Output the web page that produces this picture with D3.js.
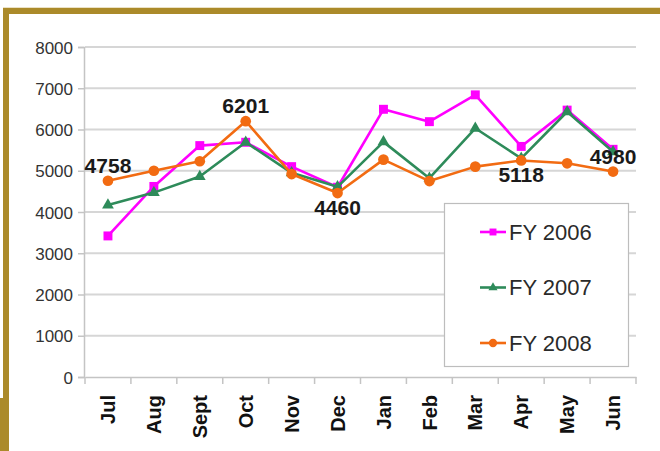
<!DOCTYPE html>
<html>
<head>
<meta charset="utf-8">
<script src="https://cdn.jsdelivr.net/npm/d3@7"></script>
<style>
  body { margin: 0; background: #fff; }
  svg { display: block; font-family: "Liberation Sans", Arial, sans-serif; }
</style>
</head>
<body>
<div id="chart"></div>
<script>
// chart data
const months = ["Jul", "Aug", "Sept", "Oct", "Nov", "Dec", "Jan", "Feb", "Mar", "Apr", "May", "Jun"];
const fy2006 = [3420, 4620, 5610, 5690, 5100, 4600, 6490, 6190, 6840, 5590, 6470, 5520];
const fy2007 = [4170, 4470, 4860, 5690, 4950, 4610, 5700, 4820, 6030, 5300, 6430, 5460];
const fy2008 = [4758, 5000, 5230, 6201, 4920, 4460, 5270, 4750, 5100, 5250, 5180, 4980];
const yTicks = [0, 1000, 2000, 3000, 4000, 5000, 6000, 7000, 8000];
const seriesNames = ["FY 2006", "FY 2007", "FY 2008"];
// data labels shown on the FY 2008 line
const labelMonths = ["Jul", "Oct", "Dec", "Apr", "Jun"];
const labelTexts = ["4758", "6201", "4460", "5118", "4980"];
const labelSides = ["above", "above", "below", "below", "above"];

const width = 660, height = 451;
const margin = { top: 47, right: 24, bottom: 74, left: 85 };

const svg = d3.select("#chart")
    .append("svg")
    .attr("width", width)
    .attr("height", height);

// gold frame
const gold = "#ab8a2a";
svg.append("rect").attr("x", 3).attr("y", 7.5).attr("width", width - 3).attr("height", 1).attr("fill", "#d8c38c");
svg.append("rect").attr("x", 3).attr("y", 8).attr("width", width - 3).attr("height", 6).attr("fill", gold);
svg.append("rect").attr("x", 3).attr("y", 8).attr("width", 6).attr("height", height - 8).attr("fill", gold);
svg.append("rect").attr("x", 0).attr("y", 398).attr("width", 9).attr("height", height - 398).attr("fill", gold);

const x = d3.scaleBand()
    .domain(months)
    .range([margin.left, width - margin.right])
    .padding(0);

const y = d3.scaleLinear()
    .domain([0, 8000])
    .range([height - margin.bottom, margin.top]);

const px = m => x(m) + x.bandwidth() / 2;

// gridlines
svg.append("g")
    .selectAll("line")
    .data(yTicks.slice(1))
    .join("line")
    .attr("x1", margin.left)
    .attr("x2", width - margin.right)
    .attr("y1", d => y(d))
    .attr("y2", d => y(d))
    .attr("stroke", "#d6d6d6")
    .attr("stroke-width", 2);

// y axis
const yAxis = svg.append("g")
    .attr("transform", `translate(${margin.left - 1},0)`)
    .call(d3.axisLeft(y).tickValues(yTicks).tickSize(6).tickPadding(5).tickFormat(d3.format("d")));
yAxis.select(".domain").attr("stroke", "#c4c4c4").attr("stroke-width", 1.5);
yAxis.selectAll(".tick line").attr("stroke", "#c4c4c4").attr("stroke-width", 1.5);
yAxis.selectAll(".tick text")
    .attr("fill", "#333")
    .style("font-size", "17px")
    .attr("dy", "0.36em");

// x axis
const xAxis = svg.append("g")
    .attr("transform", `translate(0,${height - margin.bottom})`)
    .call(d3.axisBottom(x).tickSize(0).tickFormat(""));
xAxis.select(".domain").attr("stroke", "#c4c4c4").attr("stroke-width", 1.5);

// tick marks on band edges
svg.append("g")
    .selectAll("line")
    .data(months.concat(["end"]))
    .join("line")
    .attr("x1", (d, i) => i < months.length ? x(d) : x.range()[1])
    .attr("x2", (d, i) => i < months.length ? x(d) : x.range()[1])
    .attr("y1", y(0))
    .attr("y2", y(0) + 7)
    .attr("stroke", "#c4c4c4")
    .attr("stroke-width", 1.5);

// rotated month labels
svg.append("g")
    .selectAll("text")
    .data(months)
    .join("text")
    .attr("transform", d => `translate(${px(d)},${y(0) + 18}) rotate(-90)`)
    .attr("text-anchor", "end")
    .attr("dy", "0.36em")
    .attr("fill", "#111")
    .style("font-size", "20px")
    .style("font-weight", "bold")
    .text(d => d);

// series
const series = [
    { name: seriesNames[0], values: fy2006, color: "#ff00ff", shape: d3.symbolSquare, size: 80 },
    { name: seriesNames[1], values: fy2007, color: "#2e8b5a", shape: d3.symbolTriangle, size: 60 },
    { name: seriesNames[2], values: fy2008, color: "#f26b12", shape: d3.symbolCircle, size: 90 }
];

const line = d3.line()
    .x((d, i) => px(months[i]))
    .y(d => y(d));

series.forEach(s => {
    svg.append("path")
        .datum(s.values)
        .attr("d", line)
        .attr("fill", "none")
        .attr("stroke", s.color)
        .attr("stroke-width", 2.6)
        .attr("stroke-linejoin", "round");

    svg.append("g")
        .selectAll("path")
        .data(s.values)
        .join("path")
        .attr("transform", (d, i) => `translate(${px(months[i])},${y(d)})`)
        .attr("d", d3.symbol().type(s.shape).size(s.size))
        .attr("fill", s.color);
});

// data labels
svg.append("g")
    .selectAll("text")
    .data(labelMonths)
    .join("text")
    .attr("x", d => px(d))
    .attr("y", (d, i) => y(fy2008[months.indexOf(d)]) + (labelSides[i] === "above" ? -8 : 22))
    .attr("text-anchor", "middle")
    .attr("fill", "#1a1a1a")
    .style("font-size", "21px")
    .style("font-weight", "bold")
    .text((d, i) => labelTexts[i]);

// legend
const legend = svg.append("g");
legend.append("rect")
    .attr("x", 444.5)
    .attr("y", 203.5)
    .attr("width", 184)
    .attr("height", 163)
    .attr("fill", "#fff")
    .attr("stroke", "#bdbdbd")
    .attr("stroke-width", 1.2);

const rows = legend.selectAll("g.row")
    .data(series)
    .join("g")
    .attr("class", "row")
    .attr("transform", (d, i) => `translate(480,${232 + i * 55.5})`);

rows.append("line")
    .attr("x1", 0).attr("x2", 26)
    .attr("stroke", d => d.color)
    .attr("stroke-width", 2.6);
rows.append("path")
    .attr("transform", "translate(13,0)")
    .attr("d", d => d3.symbol().type(d.shape).size(d.size * 0.6)())
    .attr("fill", d => d.color);
rows.append("text")
    .attr("x", 29)
    .attr("dy", "0.36em")
    .attr("fill", "#2a2a2a")
    .style("font-size", "22px")
    .text(d => d.name);
</script>
</body>
</html>
